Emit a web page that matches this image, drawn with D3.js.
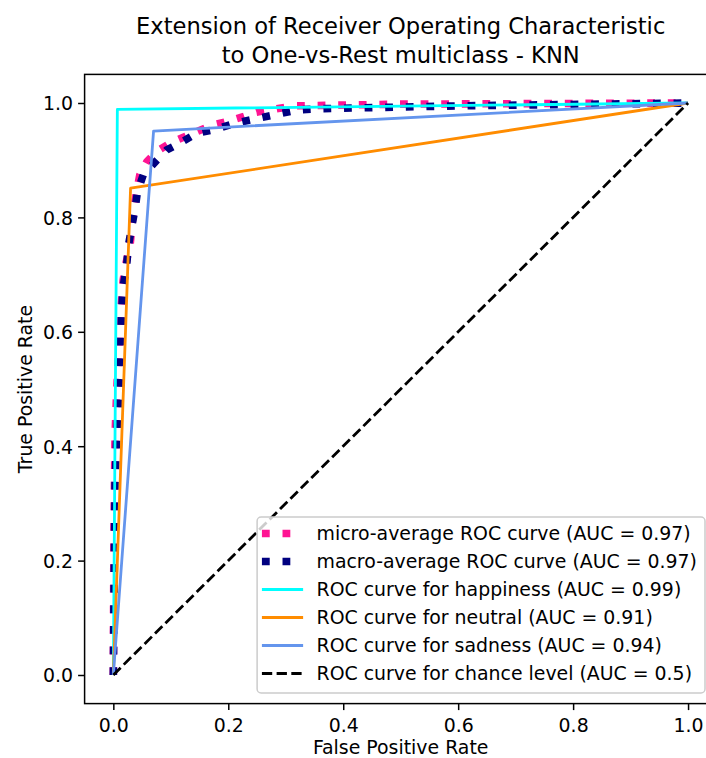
<!DOCTYPE html>
<html>
<head>
<meta charset="utf-8">
<script src="https://cdn.jsdelivr.net/npm/d3@7"></script>
<style>
  body { margin: 0; background: #fff; }
  text { font-family: "DejaVu Sans", sans-serif; fill: #000; }
</style>
</head>
<body>
<div id="chart"></div>
<script>
// Data
const titleLines = ["Extension of Receiver Operating Characteristic", "to One-vs-Rest multiclass - KNN"];
const xLabel = "False Positive Rate";
const yLabel = "True Positive Rate";
const tickValues = [0, 0.2, 0.4, 0.6, 0.8, 1.0];

const microFpr = [0, 0.001, 0.003, 0.006, 0.009, 0.012, 0.017, 0.022, 0.029, 0.035, 0.041, 0.046, 0.058, 0.075, 0.099, 0.122, 0.145, 0.171, 0.200, 0.226, 0.249, 0.284, 0.313, 0.5, 1];
const microTpr = [0, 0.25, 0.42, 0.50, 0.56, 0.626, 0.69, 0.72, 0.75, 0.813, 0.848, 0.874, 0.897, 0.915, 0.930, 0.940, 0.950, 0.961, 0.968, 0.976, 0.984, 0.990, 0.995, 0.998, 1];

const macroFpr = [0, 0.003, 0.006, 0.009, 0.012, 0.013, 0.015, 0.017, 0.023, 0.026, 0.032, 0.038, 0.042, 0.052, 0.073, 0.093, 0.116, 0.145, 0.174, 0.203, 0.232, 0.293, 0.322, 0.36, 0.6, 1];
const macroTpr = [0, 0.335, 0.42, 0.475, 0.53, 0.60, 0.644, 0.679, 0.714, 0.749, 0.784, 0.816, 0.845, 0.874, 0.897, 0.918, 0.930, 0.947, 0.953, 0.962, 0.969, 0.982, 0.988, 0.990, 0.995, 1];

const happinessFpr = [0, 0.007, 1];
const happinessTpr = [0, 0.989, 1];
const neutralFpr = [0, 0.030, 1];
const neutralTpr = [0, 0.851, 1];
const sadnessFpr = [0, 0.070, 1];
const sadnessTpr = [0, 0.951, 1];
const chanceFpr = [0, 1];
const chanceTpr = [0, 1];

const seriesNames = ["micro", "macro", "happiness", "neutral", "sadness", "chance"];
const seriesLabels = [
  "micro-average ROC curve (AUC = 0.97)",
  "macro-average ROC curve (AUC = 0.97)",
  "ROC curve for happiness (AUC = 0.99)",
  "ROC curve for neutral (AUC = 0.91)",
  "ROC curve for sadness (AUC = 0.94)",
  "ROC curve for chance level (AUC = 0.5)"
];

function rocChart() {
  // Size
  let margin = { top: 74.4, left: 84.6, bottom: 54.4, right: -10.8 },
      width = 706,
      height = 758,
      innerWidth = function() { return width - margin.left - margin.right; },
      innerHeight = function() { return height - margin.top - margin.bottom; },

      // Styles per series
      styles = {
        micro:     { color: "#ff1493", width: 7.6, dash: "7.8,12.8" },
        macro:     { color: "#000080", width: 7.6, dash: "7.8,12.8" },
        happiness: { color: "#00ffff", width: 2.8, dash: null },
        neutral:   { color: "#ff8c00", width: 2.8, dash: null },
        sadness:   { color: "#6495ed", width: 2.8, dash: null },
        chance:    { color: "#000000", width: 2.8, dash: "10.3,4.4" }
      },

      fontSize = 18.9,
      titleSize = 22.6,
      svg = d3.select();

  function chart(selection) {
    selection.each(function(d) {
      svg = d3.select(this).append("svg")
          .attr("width", width)
          .attr("height", height);

      draw(d);
    });
  }

  function draw(series) {
    const xScale = d3.scaleLinear()
        .domain([-0.05, 1.05])
        .range([0, innerWidth()]);

    const yScale = d3.scaleLinear()
        .domain([-0.05, 1.05])
        .range([innerHeight(), 0]);

    const g = svg.append("g")
        .attr("transform", "translate(" + margin.left + "," + margin.top + ")");

    g.append("clipPath")
        .attr("id", "plotClip")
      .append("rect")
        .attr("width", innerWidth())
        .attr("height", innerHeight());

    // Lines
    const lineShape = d3.line()
        .x(d => xScale(d[0]))
        .y(d => yScale(d[1]));

    g.append("g")
        .attr("class", "lines")
        .attr("clip-path", "url(#plotClip)")
      .selectAll("path")
        .data(series)
      .enter().append("path")
        .attr("d", d => lineShape(d3.zip(d.fpr, d.tpr)))
        .style("fill", "none")
        .style("stroke", d => styles[d.name].color)
        .style("stroke-width", d => styles[d.name].width)
        .style("stroke-dasharray", d => styles[d.name].dash)
        .style("stroke-linejoin", "round");

    drawAxes(g, xScale, yScale);
    drawLegend(g, series);
    drawLabels();
  }

  function drawAxes(g, xScale, yScale) {
    const xAxis = d3.axisBottom(xScale)
        .tickValues(tickValues)
        .tickFormat(d3.format(".1f"))
        .tickSizeInner(6.5)
        .tickSizeOuter(0)
        .tickPadding(5);

    const yAxis = d3.axisLeft(yScale)
        .tickValues(tickValues)
        .tickFormat(d3.format(".1f"))
        .tickSizeInner(6.5)
        .tickSizeOuter(0)
        .tickPadding(5);

    const gX = g.append("g")
        .attr("transform", "translate(0," + innerHeight() + ")")
        .call(xAxis);

    const gY = g.append("g")
        .call(yAxis);

    [gX, gY].forEach(a => {
      a.select(".domain").remove();
      a.selectAll(".tick line").style("stroke", "#000").style("stroke-width", 1.5);
      a.selectAll(".tick text")
          .style("font-family", "DejaVu Sans")
          .style("font-size", fontSize + "px")
          .style("fill", "#000");
    });

    gX.selectAll(".tick text").attr("dy", "0.92em");
    gY.selectAll(".tick text").attr("dy", "0.36em");

    // Spines
    g.append("rect")
        .attr("width", innerWidth())
        .attr("height", innerHeight())
        .style("fill", "none")
        .style("stroke", "#000")
        .style("stroke-width", 1.5);
  }

  function drawLegend(g, series) {
    const rowHeight = 28,
          textX = 59.4,
          pad = 8;

    const legend = g.append("g").attr("class", "legend");

    const box = legend.append("rect")
        .attr("rx", 4)
        .attr("ry", 4)
        .style("fill", "#fff")
        .style("fill-opacity", 0.8)
        .style("stroke", "#cccccc")
        .style("stroke-width", 1.5);

    const row = legend.selectAll(".row")
        .data(series)
      .enter().append("g")
        .attr("class", "row")
        .attr("transform", (d, i) => "translate(0," + (16.5 + i * rowHeight) + ")");

    row.append("line")
        .attr("x1", 4.8)
        .attr("x2", 46)
        .style("stroke", d => styles[d.name].color)
        .style("stroke-width", d => styles[d.name].width)
        .style("stroke-dasharray", d => styles[d.name].dash);

    row.append("text")
        .attr("x", textX)
        .attr("dy", "0.36em")
        .style("font-size", fontSize + "px")
        .text(d => d.label);

    const maxLen = d3.max(row.selectAll("text").nodes(), n => n.getComputedTextLength());
    const boxWidth = textX + maxLen + pad,
          boxHeight = 176;

    box.attr("width", boxWidth).attr("height", boxHeight);

    legend.attr("transform", "translate(" + (innerWidth() - 11.8 - boxWidth) + "," + (innerHeight() - 10.6 - boxHeight) + ")");
  }

  function drawLabels() {
    const cx = margin.left + innerWidth() / 2,
          cy = margin.top + innerHeight() / 2;

    svg.append("g").selectAll("text")
        .data(titleLines)
      .enter().append("text")
        .attr("x", cx)
        .attr("y", (d, i) => 33.5 + i * 29)
        .attr("text-anchor", "middle")
        .style("font-size", titleSize + "px")
        .text(d => d);

    svg.append("text")
        .attr("x", cx)
        .attr("y", 754)
        .attr("text-anchor", "middle")
        .style("font-size", fontSize + "px")
        .text(xLabel);

    svg.append("text")
        .attr("transform", "translate(32," + cy + ") rotate(-90)")
        .attr("text-anchor", "middle")
        .style("font-size", fontSize + "px")
        .text(yLabel);
  }

  chart.width = function(_) {
    if (!arguments.length) return width;
    width = _;
    return chart;
  };

  chart.height = function(_) {
    if (!arguments.length) return height;
    height = _;
    return chart;
  };

  return chart;
}

const fprs = [microFpr, macroFpr, happinessFpr, neutralFpr, sadnessFpr, chanceFpr],
      tprs = [microTpr, macroTpr, happinessTpr, neutralTpr, sadnessTpr, chanceTpr];

const seriesData = seriesNames.map((name, i) => ({
  name: name,
  label: seriesLabels[i],
  fpr: fprs[i],
  tpr: tprs[i]
}));

d3.select("#chart")
    .datum(seriesData)
    .call(rocChart());
</script>
</body>
</html>
